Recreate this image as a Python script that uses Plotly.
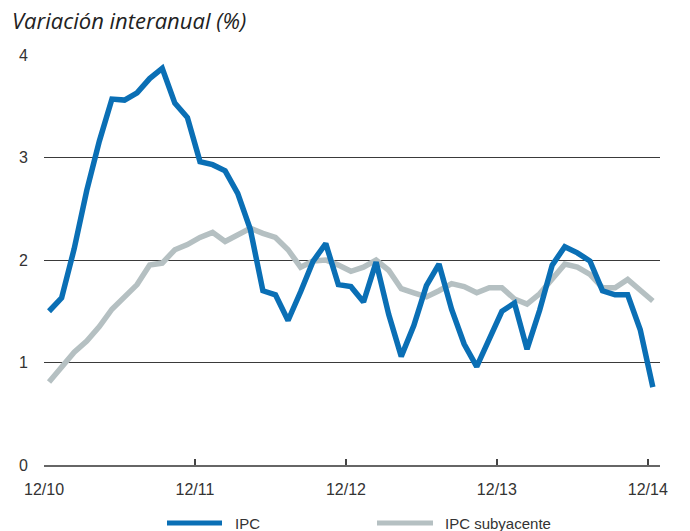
import plotly.graph_objects as go

months = list(range(49))  # 0 = Dec 2010 ... 48 = Dec 2014

ipc = [1.50, 1.63, 2.11, 2.68, 3.16, 3.57, 3.56, 3.63, 3.77, 3.87, 3.53, 3.39, 2.96,
       2.93, 2.87, 2.65, 2.30, 1.70, 1.66, 1.41, 1.69, 1.99, 2.16, 1.76, 1.74,
       1.59, 1.98, 1.47, 1.06, 1.36, 1.75, 1.96, 1.52, 1.18, 0.96, 1.24, 1.50,
       1.58, 1.13, 1.51, 1.95, 2.13, 2.07, 1.99, 1.70, 1.66, 1.66, 1.32, 0.76]

ipc_sub = [0.81, 0.95, 1.10, 1.21, 1.35, 1.52, 1.64, 1.76, 1.95, 1.97, 2.10, 2.15, 2.22,
           2.27, 2.18, 2.25, 2.31, 2.26, 2.22, 2.10, 1.93, 1.99, 2.00, 1.95, 1.89,
           1.93, 2.00, 1.90, 1.72, 1.68, 1.64, 1.70, 1.77, 1.74, 1.68, 1.73, 1.73,
           1.62, 1.57, 1.67, 1.82, 1.96, 1.93, 1.86, 1.73, 1.73, 1.81, 1.70, 1.60]

tick_pos = [-0.4, 11.6, 23.6, 35.6, 47.6]
tick_labels = ["12/10", "12/11", "12/12", "12/13", "12/14"]
series_names = ["IPC", "IPC subyacente"]
colors = ["#0a6fb5", "#b5c0c2"]

W, H = 690, 531
ml, mr, mt, mb = 44, 30, 55, 66

fig = go.Figure()
fig.add_trace(go.Scatter(x=months, y=ipc_sub, mode="lines", name=series_names[1],
                         line=dict(color=colors[1], width=5.5), showlegend=False))
fig.add_trace(go.Scatter(x=months, y=ipc, mode="lines", name=series_names[0],
                         line=dict(color=colors[0], width=5.5), showlegend=False))

tick_font = dict(family="Liberation Sans Narrow, Arial Narrow, Liberation Sans, sans-serif",
                 size=16, color="#333333")
leg_font = dict(family="Liberation Sans Narrow, Arial Narrow, Liberation Sans, sans-serif",
                size=15, color="#333333")

fig.update_xaxes(range=[-0.4, 48.57], tickvals=tick_pos, ticktext=tick_labels,
                 showgrid=False, zeroline=False, showline=True, linecolor="#666666",
                 linewidth=2, ticks="inside", ticklen=6, tickwidth=2, tickcolor="#444444",
                 tickfont=tick_font, ticklabelstandoff=9, fixedrange=True)
fig.update_yaxes(range=[0, 4], tickvals=[0, 1, 2, 3, 4], showgrid=True,
                 gridcolor="#3a3a3a", gridwidth=1, zeroline=False, showline=False,
                 tickfont=tick_font, ticklabelstandoff=15, fixedrange=True)

# legend drawn as line samples + text
pw = W - ml - mr
ph = H - mt - mb
def px_to_paper_x(px):
    return (px - ml) / pw
def py_to_paper_y(py):
    return (H - mb - py) / ph

leg_y = 523
leg_items = [(167, 222, 233), (377, 433, 443)]
for (x0, x1, tx), name, col in zip(leg_items, series_names, colors):
    fig.add_shape(type="line", xref="paper", yref="paper",
                  x0=px_to_paper_x(x0), x1=px_to_paper_x(x1),
                  y0=py_to_paper_y(leg_y), y1=py_to_paper_y(leg_y),
                  line=dict(color=col, width=5), layer="above")
    fig.add_annotation(text=name, xref="paper", yref="paper",
                       x=px_to_paper_x(tx), y=py_to_paper_y(leg_y),
                       xanchor="left", yanchor="middle", showarrow=False,
                       font=leg_font)

fig.update_layout(
    width=W, height=H,
    margin=dict(l=ml, r=mr, t=mt, b=mb),
    paper_bgcolor="white", plot_bgcolor="white",
    title=dict(text="<i>Variación interanual (%)</i>", xref="container", yref="container",
               x=12 / W, xanchor="left", y=1 - 21 / H, yanchor="middle",
               font=dict(family="Open Sans, Noto Sans, sans-serif", size=22, color="#222222")),
    showlegend=False,
)

fig.write_html("out.html")
